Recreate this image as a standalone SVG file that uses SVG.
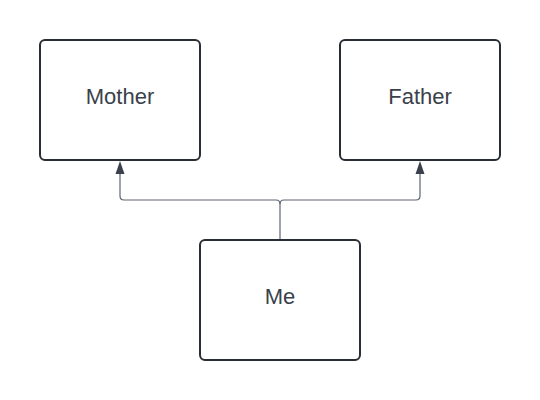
<svg xmlns="http://www.w3.org/2000/svg" width="540" height="400" viewBox="0 0 540 400">
<style>
.box{fill:#fff;stroke:#282c33;stroke-width:2}
.lbl{font-family:"Liberation Sans",Arial,sans-serif;font-size:22px;fill:#3a414a;text-anchor:middle;dominant-baseline:central}
.conn{fill:none;stroke:#5e6470;stroke-width:1.2}
.head{fill:#3a414a}
</style>
<rect width="540" height="400" fill="#fff"/>
<g id="connectors">
<path class="conn" d="M280,240 L280,204 Q280,200 276,200 L124,200 Q120,200 120,196 L120,172"/>
<path class="conn" d="M280,204 Q280,200 284,200 L416,200 Q420,200 420,196 L420,172"/>
<polygon class="head" points="120,161 115.5,174 124.5,174"/>
<polygon class="head" points="420,161 415.5,174 424.5,174"/>
</g>
<g id="mother">
<rect class="box" x="40" y="40" width="160" height="120" rx="5"/>
<text class="lbl" x="120" y="96">Mother</text>
</g>
<g id="father">
<rect class="box" x="340" y="40" width="160" height="120" rx="5"/>
<text class="lbl" x="420" y="96">Father</text>
</g>
<g id="me">
<rect class="box" x="200" y="240" width="160" height="120" rx="5"/>
<text class="lbl" x="280" y="296">Me</text>
</g>
</svg>
